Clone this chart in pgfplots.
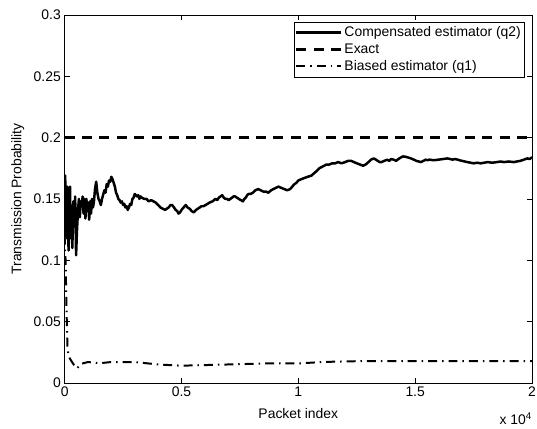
\documentclass[border=0pt]{standalone}
\usepackage{fontspec}
\setmainfont{Liberation Sans}
\usepackage{pgfplots}
\pgfplotsset{compat=1.18}

\begin{document}
\fontsize{14}{16.8}\selectfont
\begin{tikzpicture}
\begin{axis}[
  name=ax,
  scale only axis,
  width=470pt, height=370pt,
  xmin=0, xmax=20000, ymin=0, ymax=0.3,
  xtick={0,5000,10000,15000,20000},
  xticklabels={0,0.5,1,1.5,2},
  ytick={0,0.05,0.1,0.15,0.2,0.25,0.3},
  yticklabels={0,0.05,0.1,0.15,0.2,0.25,0.3},
  scaled x ticks=false,
  tick align=inside,
  major tick length=5pt,
  tick style={black, line width=0.5pt},
  axis line style={line width=0.7pt},
  /pgf/number format/assume math mode=true,
  ticklabel style={font=\fontsize{14}{16.8}\selectfont},
  xticklabel style={yshift=1pt},
  yticklabel style={xshift=1pt},
  xlabel={Packet index},
  ylabel={Transmission Probability},
  label style={font=\fontsize{14}{16.8}\selectfont},
  xlabel style={at={(axis description cs:0.5,0)}, anchor=center, yshift=-31pt},
  ylabel style={at={(axis description cs:-0.1,0.5)}, anchor=center},
  legend style={at={(rel axis cs:1,1)}, anchor=north east, xshift=-8pt, yshift=-7pt,
    draw=black, font=\fontsize{14}{16.8}\selectfont,
    inner xsep=1pt, inner ysep=3pt, row sep=2pt,
    nodes={inner xsep=2pt, inner ysep=1.5pt}},
  legend cell align=left,
  legend image code/.code={\draw[#1] (0pt,0pt) -- (45pt,0pt);},
]
\addplot[black, line width=2.5pt, line join=round] coordinates {
(0,0.120) (20,0.169) (50,0.150) (80,0.118) (110,0.160) (140,0.128) (170,0.108)
(200,0.150) (230,0.160) (260,0.118) (290,0.140) (330,0.110) (370,0.148)
(410,0.130) (450,0.152) (490,0.104) (530,0.125) (570,0.140) (610,0.150)
(650,0.135) (690,0.148) (730,0.144) (770,0.152) (810,0.138) (850,0.150)
(890,0.134) (930,0.150) (970,0.140) (1010,0.147) (1050,0.133) (1090,0.148)
(1130,0.138) (1170,0.150) (1210,0.143) (1250,0.147) (1300,0.158) (1350,0.164)
(1400,0.155) (1450,0.150) (1500,0.148) (1550,0.145) (1600,0.150) (1700,0.157)
(1750,0.155) (1800,0.162) (1850,0.160) (1900,0.165) (1950,0.164) (2000,0.168)
(2050,0.166) (2100,0.163) (2150,0.160) (2200,0.155) (2250,0.153) (2300,0.150)
(2350,0.149) (2400,0.147) (2450,0.148) (2500,0.145) (2550,0.146) (2600,0.143)
(2650,0.144) (2700,0.141) (2750,0.143) (2800,0.146) (2850,0.145) (2900,0.150)
(2950,0.151) (3000,0.154) (3050,0.153) (3100,0.152) (3150,0.153) (3200,0.150)
(3250,0.152) (3300,0.151) (3400,0.150) (3500,0.150) (3600,0.148) (3700,0.149)
(3800,0.148) (3900,0.147) (4000,0.145) (4100,0.143) (4200,0.142) (4300,0.141)
(4370,0.142) (4450,0.143) (4530,0.145) (4600,0.145) (4680,0.143) (4750,0.141)
(4820,0.140) (4870,0.138) (4940,0.139) (5000,0.141) (5090,0.143) (5180,0.145)
(5260,0.143) (5350,0.142) (5440,0.140) (5530,0.139) (5620,0.141) (5700,0.142)
(5780,0.143) (5850,0.144) (5940,0.144) (6030,0.145) (6120,0.146) (6200,0.147)
(6330,0.148) (6450,0.150) (6530,0.149) (6600,0.151) (6670,0.152) (6740,0.153)
(6810,0.151) (6880,0.150) (6950,0.150) (7020,0.149) (7090,0.150) (7160,0.151)
(7230,0.152) (7300,0.152) (7370,0.151) (7450,0.150) (7540,0.149) (7630,0.148)
(7690,0.150) (7750,0.151) (7810,0.153) (7870,0.154) (7960,0.154) (8050,0.155)
(8160,0.157) (8280,0.158) (8390,0.157) (8500,0.156) (8610,0.156) (8720,0.155)
(8830,0.157) (8930,0.158) (9040,0.159) (9150,0.160) (9270,0.159) (9400,0.158)
(9520,0.157) (9650,0.158) (9740,0.160) (9830,0.162) (9910,0.163) (10000,0.165)
(10120,0.166) (10250,0.167) (10400,0.168) (10560,0.169) (10680,0.171)
(10800,0.173) (10900,0.175) (11000,0.176) (11100,0.177) (11200,0.178)
(11320,0.178) (11450,0.179) (11580,0.179) (11700,0.180) (11850,0.179)
(12000,0.180) (12130,0.181) (12270,0.181) (12380,0.180) (12500,0.179)
(12640,0.178) (12770,0.177) (12880,0.178) (13000,0.180) (13110,0.182)
(13230,0.183) (13320,0.182) (13400,0.181) (13480,0.180) (13550,0.180)
(13680,0.181) (13800,0.182) (13890,0.181) (13970,0.1825) (14080,0.182)
(14180,0.181) (14320,0.183) (14470,0.1846) (14560,0.1845) (14650,0.184)
(14740,0.1835) (14820,0.183) (14940,0.182) (15050,0.181) (15150,0.1805)
(15250,0.180) (15350,0.181) (15450,0.182) (15530,0.1815) (15600,0.182)
(15800,0.1815) (16000,0.182) (16200,0.1825) (16380,0.183) (16500,0.1825)
(16600,0.182) (16700,0.1825) (16810,0.182) (16900,0.1815) (17000,0.181)
(17120,0.1805) (17230,0.180) (17370,0.1795) (17500,0.179) (17650,0.1795)
(17800,0.179) (17950,0.1795) (18100,0.180) (18300,0.1795) (18500,0.180)
(18650,0.1805) (18800,0.180) (19000,0.1805) (19220,0.180) (19350,0.1805)
(19500,0.181) (19650,0.182) (19800,0.183) (19900,0.1825) (20000,0.184)
};
\addlegendentry{Compensated estimator (q2)}
\addplot[black, line width=2.2pt, dash pattern=on 10pt off 7.5pt] coordinates {
(0,0.2) (20000,0.2)
};
\addlegendentry{Exact}
\addplot[black, line width=2pt, dash pattern=on 9pt off 5pt on 1.5pt off 5pt] coordinates {
(0,0.120) (40,0.100) (80,0.060) (120,0.030) (160,0.022) (250,0.019)
(350,0.016) (450,0.013) (550,0.012) (650,0.015) (800,0.016) (1000,0.017)
(1500,0.016) (2000,0.017) (3000,0.017) (4000,0.015) (5000,0.014)
(6000,0.0145) (7000,0.015) (8000,0.0155) (9000,0.016) (10000,0.0158)
(11000,0.017) (12000,0.0175) (13000,0.0178) (14000,0.0178) (15000,0.0178)
(16000,0.0177) (17000,0.0177) (18000,0.0178) (19000,0.0178) (20000,0.0178)
};
\addlegendentry{Biased estimator (q1)}
\coordinate (ll) at (rel axis cs:0,0);
\coordinate (ur) at (rel axis cs:1,1);
\end{axis}
\node[anchor=east, inner sep=0pt] at ([yshift=-36pt]ax.south east) {x 10\textsuperscript{4}};
\pgfresetboundingbox
\path ([xshift=-65pt,yshift=-46pt]ll) rectangle ([xshift=5pt,yshift=15pt]ur);
\end{tikzpicture}
\end{document}
